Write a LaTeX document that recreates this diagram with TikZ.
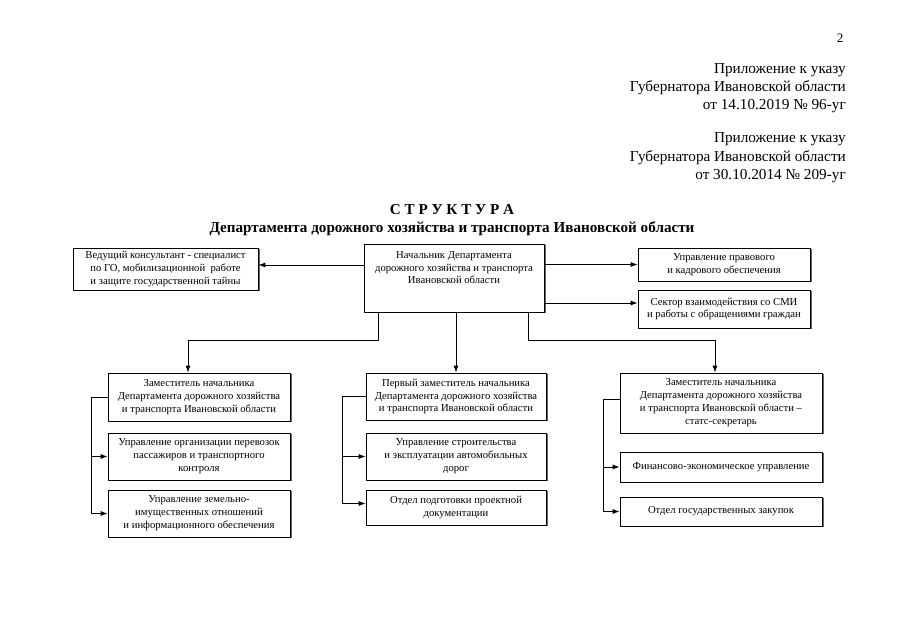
\documentclass[tikz,border=0pt]{standalone}
\usepackage{fontspec}
\setmainfont{Liberation Serif}
\usetikzlibrary{shadows,arrows.meta}
\tikzset{
  orgbox/.style={draw=black,line width=0.7bp,fill=white,align=center,inner sep=1bp,
    font=\fontsize{10.7}{13}\selectfont,
    drop shadow={opacity=1,fill=black!60,shadow xshift=1.5bp,shadow yshift=-1.5bp}},
  link/.style={black,line width=0.9bp},
}
\begin{document}
\begin{tikzpicture}[>={Latex[length=7bp,width=5bp]},line join=bevel,]
\useasboundingbox (0bp,0bp) rectangle (905bp,640bp);
%% heading
\node (node_page) at (840bp,602bp) [font=\fontsize{13}{16}\selectfont] {2};
\node (node_app1) at (846bp,577bp) [anchor=north east,align=right,inner sep=0bp,font=\fontsize{15.3}{18.2}\selectfont]
  {Приложение к указу\\Губернатора Ивановской области\\от 14.10.2019 № 96-уг};
\node (node_app2) at (846bp,507.5bp) [anchor=north east,align=right,inner sep=0bp,font=\fontsize{15.3}{18.5}\selectfont]
  {Приложение к указу\\Губернатора Ивановской области\\от 30.10.2014 № 209-уг};
\node (node_title) at (452bp,420bp) [align=center,inner sep=0bp,font=\bfseries\fontsize{15.2}{18}\selectfont]
  {С Т Р У К Т У Р А\\Департамента дорожного хозяйства и транспорта Ивановской области};
%% top level
\node (node_head) at (454bp,362bp) [orgbox,minimum width=180bp,minimum height=68bp]
  {Начальник Департамента\\дорожного хозяйства и транспорта\\Ивановской области\\[8bp]\mbox{}};
\node (node_vk) at (165.5bp,371bp) [orgbox,minimum width=185bp,minimum height=42bp]
  {Ведущий консультант - специалист\\по ГО, мобилизационной~ работе\\и защите государственной тайны};
\node (node_up) at (724bp,375.5bp) [orgbox,minimum width=172bp,minimum height=33bp]
  {Управление правового\\и кадрового обеспечения};
\node (node_smi) at (724bp,331bp) [orgbox,minimum width=172bp,minimum height=38bp]
  {Сектор взаимодействия со СМИ\\и работы с обращениями граждан};
%% deputies
\node (node_dep1) at (199bp,243bp) [orgbox,minimum width=182bp,minimum height=48bp]
  {Заместитель начальника\\Департамента дорожного хозяйства\\и транспорта Ивановской области};
\node (node_dep0) at (456bp,243.5bp) [orgbox,minimum width=180bp,minimum height=47bp]
  {Первый заместитель начальника\\Департамента дорожного хозяйства\\и транспорта Ивановской области};
\node (node_dep2) at (721bp,237bp) [orgbox,minimum width=202bp,minimum height=60bp]
  {Заместитель начальника\\Департамента дорожного хозяйства\\и транспорта Ивановской области --\\статс-секретарь};
%% departments
\node (node_uporg) at (199bp,183.5bp) [orgbox,minimum width=182bp,minimum height=47bp]
  {Управление организации перевозок\\пассажиров и транспортного\\контроля};
\node (node_upzem) at (199bp,126.5bp) [orgbox,minimum width=182bp,minimum height=47bp]
  {Управление земельно-\\имущественных отношений\\и информационного обеспечения};
\node (node_upstr) at (456bp,183.5bp) [orgbox,minimum width=180bp,minimum height=47bp]
  {Управление строительства\\и эксплуатации автомобильных\\дорог};
\node (node_otdpd) at (456bp,132.5bp) [orgbox,minimum width=180bp,minimum height=35bp]
  {Отдел подготовки проектной\\документации};
\node (node_fin) at (721bp,173bp) [orgbox,minimum width=202bp,minimum height=30bp]
  {Финансово-экономическое управление};
\node (node_zak) at (721bp,128.5bp) [orgbox,minimum width=202bp,minimum height=29bp]
  {Отдел государственных закупок};
%% junctions
\coordinate (c_left) at (378bp,300bp);
\coordinate (c_right) at (528bp,300bp);
%% connectors
\draw [link,->] ([yshift=13bp]node_head.west) -- ([yshift=13bp]node_head.west -| node_vk.east);
\draw [link,->] (node_up.west -| node_head.east) -- (node_up.west);
\draw [link,->] ([yshift=6bp]node_smi.west -| node_head.east) -- ([yshift=6bp]node_smi.west);
\draw [link,->] (node_head.south -| c_left) -- (c_left) -| ([xshift=-11bp]node_dep1.north);
\draw [link,->] (node_head.south -| node_dep0.north) -- (node_dep0.north);
\draw [link,->] (node_head.south -| c_right) -- (c_right) -| ([xshift=-6bp]node_dep2.north);
\draw [link,->] (node_dep1.west) -| ([xshift=-16bp]node_uporg.west) -- (node_uporg.west);
\draw [link,->] ([xshift=-16bp]node_uporg.west) |- (node_upzem.west);
\draw [link,->] (node_dep0.west) -| ([xshift=-23bp]node_upstr.west) -- (node_upstr.west);
\draw [link,->] ([xshift=-23bp]node_upstr.west) |- ([yshift=4bp]node_otdpd.west);
\draw [link,->] ([yshift=4bp]node_dep2.west) -| ([xshift=-16bp]node_fin.west) -- (node_fin.west);
\draw [link,->] ([xshift=-16bp]node_fin.west) |- (node_zak.west);
%
\end{tikzpicture}
\end{document}
